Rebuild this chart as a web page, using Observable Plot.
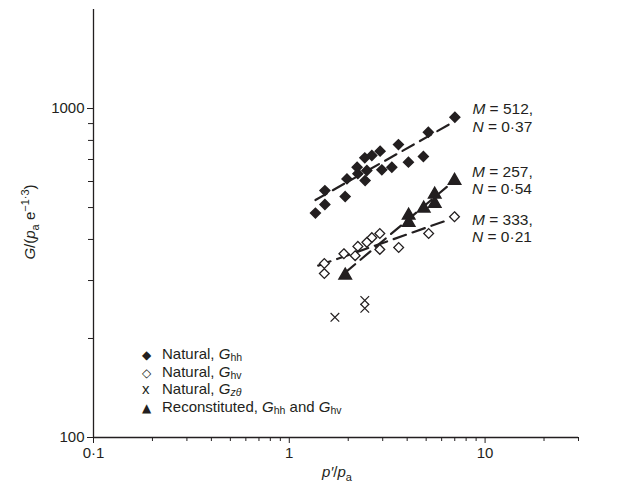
<!DOCTYPE html>
<html><head><meta charset="utf-8">
<script src="https://cdn.jsdelivr.net/npm/d3@7"></script>
<script src="https://cdn.jsdelivr.net/npm/@observablehq/plot@0.6"></script>
<style>
body{margin:0;background:#fff;font-family:"Liberation Sans",Arial,sans-serif;color:#231f20}
#wrap{position:relative;width:626px;height:495px;}
#legend{position:absolute;left:142px;top:345px;font-size:15px;line-height:17.5px;}
#legend .row{white-space:nowrap;height:17.5px}
#legend .sym{display:inline-block;width:20px;font-family:"DejaVu Sans",sans-serif;font-size:12px;}
#legend sub{font-size:10.5px;vertical-align:-2px;line-height:0}
</style></head><body><div id="wrap"><div id="legend"></div></div>
<script>
// ---- data ----
const ghhX = [7.01,5.13,3.61,4.84,4.06,3.34,2.91,2.64,2.43,2.97,2.49,2.22,2.24,2.44,1.97,1.93,1.52,1.52,1.36];
const ghhY = [941,847,777,715,687,663,742,720,708,651,648,663,634,604,611,540,563,511,481];
const ghvX = [6.98,5.15,3.62,2.90,2.64,2.49,2.24,2.90,2.17,1.90,1.51,1.51];
const ghvY = [469,417,378,417,405,392,381,373,357,362,338,315];
const gztX = [2.43,2.43,1.71];
const gztY = [261,247,232];
const recX = [6.98,5.53,5.53,4.86,4.07,4.07,1.93];
const recY = [604,548,514,497,473,450,311];
// fitted power-law lines (end points)
const fitGhhX = [1.36,6.90], fitGhhY = [527,910];
const fitRecX = [1.93,6.51], fitRecY = [317,584];
const fitGhvX = [1.405,6.58], fitGhvY = [333,460];
const fitLabels = [["512","0·37"],["257","0·54"],["333","0·21"]];
// ticks
const xMajor = [0.1,1,10], xMajorLabels = ["0·1","1","10"];
const xMinor = [0.2,0.3,0.4,0.5,0.6,0.7,0.8,0.9,2,3,4,5,6,7,8,9,20,30];
const yMajor = [100,1000], yMajorLabels = ["100","1000"];
const yMinor = [200,300,400,500,600,700,800,900];

const ink = "#231f20";
const zip = (xs, ys) => xs.map((x,i)=>({x, y: ys[i]}));
const ghh = zip(ghhX,ghhY), ghv = zip(ghvX,ghvY), gzt = zip(gztX,gztY), rec = zip(recX,recY);
const fits = [zip(fitGhhX,fitGhhY), zip(fitRecX,fitRecY), zip(fitGhvX,fitGhvY)];

const dash = {x:"x", y:"y", stroke: ink, strokeWidth: 2.2, strokeDasharray: "13,7"};
const plot = Plot.plot({
  width: 626, height: 495,
  marginLeft: 93, marginRight: 48, marginTop: 9, marginBottom: 58,
  style: {fontFamily: "Liberation Sans, Arial, sans-serif", fontSize: "15px", color: ink, background: "white", overflow: "visible"},
  x: {type: "log", domain: [0.1, 30]},
  y: {type: "log", domain: [100, 2000]},
  marks: [
    Plot.axisX(xMinor, {tickSize: 4, tickFormat: () => "", label: null, stroke: ink}),
    Plot.axisX(xMajor, {tickSize: 6, tickPadding: 4, fontSize: 15, tickFormat: d => xMajorLabels[xMajor.indexOf(d)], label: null, stroke: ink}),
    Plot.axisY(yMinor, {tickSize: 5, tickFormat: () => "", label: null, stroke: ink}),
    Plot.axisY(yMajor, {tickSize: 6, tickPadding: 3, fontSize: 15, tickFormat: d => yMajorLabels[yMajor.indexOf(d)], label: null, stroke: ink}),
    Plot.ruleX([0.1], {stroke: ink, strokeWidth: 1.3}),
    Plot.ruleY([100], {stroke: ink, strokeWidth: 1.3}),
    ...fits.map(f => Plot.line(f, dash)),
    Plot.dot(ghv, {x:"x", y:"y", symbol: "diamond2", r: 4.4, fill: "white", stroke: ink, strokeWidth: 1.3}),
    Plot.dot(gzt, {x:"x", y:"y", symbol: "times", r: 4, stroke: ink, strokeWidth: 1.2}),
    Plot.dot(rec, {x:"x", y:"y", symbol: "triangle", r: 4.6, fill: ink, stroke: ink}),
    Plot.dot(ghh, {x:"x", y:"y", symbol: "diamond2", r: 4.4, fill: ink, stroke: ink})
  ]
});
document.getElementById("wrap").prepend(plot);

const svg = d3.select(plot);
const sx = plot.scale("x"), sy = plot.scale("y");
// fit labels next to the top point of each series
const tops = [ghh[0], rec[0], ghv[0]];
const offs = [[-8,10],[-8,9],[3,20]];
tops.forEach((p,i) => {
  const x0 = sx.apply(p.x) + 18, y0 = sy.apply(p.y);
  const t1 = svg.append("text").attr("x", x0).attr("y", y0 + offs[i][0]).attr("dy","0.35em")
    .attr("text-anchor","start").attr("font-size",15.5).attr("fill",ink);
  t1.append("tspan").attr("font-style","italic").text("M");
  t1.append("tspan").text(" = " + fitLabels[i][0] + ",");
  const t2 = svg.append("text").attr("x", x0).attr("y", y0 + offs[i][1]).attr("dy","0.35em")
    .attr("text-anchor","start").attr("font-size",15.5).attr("fill",ink);
  t2.append("tspan").attr("font-style","italic").text("N");
  t2.append("tspan").text(" = " + fitLabels[i][1]);
});
// axis titles
const xt = svg.append("text").attr("x", 337).attr("y", 477).attr("text-anchor","middle").attr("font-size",15).attr("fill",ink);
xt.append("tspan").attr("font-style","italic").text("p′");
xt.append("tspan").text("/");
xt.append("tspan").attr("font-style","italic").text("p");
xt.append("tspan").attr("font-size",11).attr("dy",4).text("a");
const yt = svg.append("text").attr("transform","translate(35,222) rotate(-90)").attr("text-anchor","middle").attr("font-size",15).attr("fill",ink);
yt.append("tspan").attr("font-style","italic").text("G");
yt.append("tspan").text("/(");
yt.append("tspan").attr("font-style","italic").text("p");
yt.append("tspan").attr("font-size",11).attr("dy",4).text("a");
yt.append("tspan").attr("dy",-4).text(" e");
yt.append("tspan").attr("font-size",11).attr("dy",-6).text("−1·3");
yt.append("tspan").attr("dy",6).text(")");

// legend
const legendRows = [
  ["◆", "Natural, ", "hh", ""],
  ["◇", "Natural, ", "hv", ""],
  ["x", "Natural, ", "<i>zθ</i>", ""],
  ["▲", "Reconstituted, ", "hh", " and <i>G</i><sub>hv</sub>"]
];
document.getElementById("legend").innerHTML = legendRows.map(r =>
  `<div class="row"><span class="sym"${r[0]==="x"?' style="font-family:Liberation Sans;font-size:15px"':''}>${r[0]}</span>${r[1]}<i>G</i><sub>${r[2]}</sub>${r[3]}</div>`).join("");
</script>
</body></html>
